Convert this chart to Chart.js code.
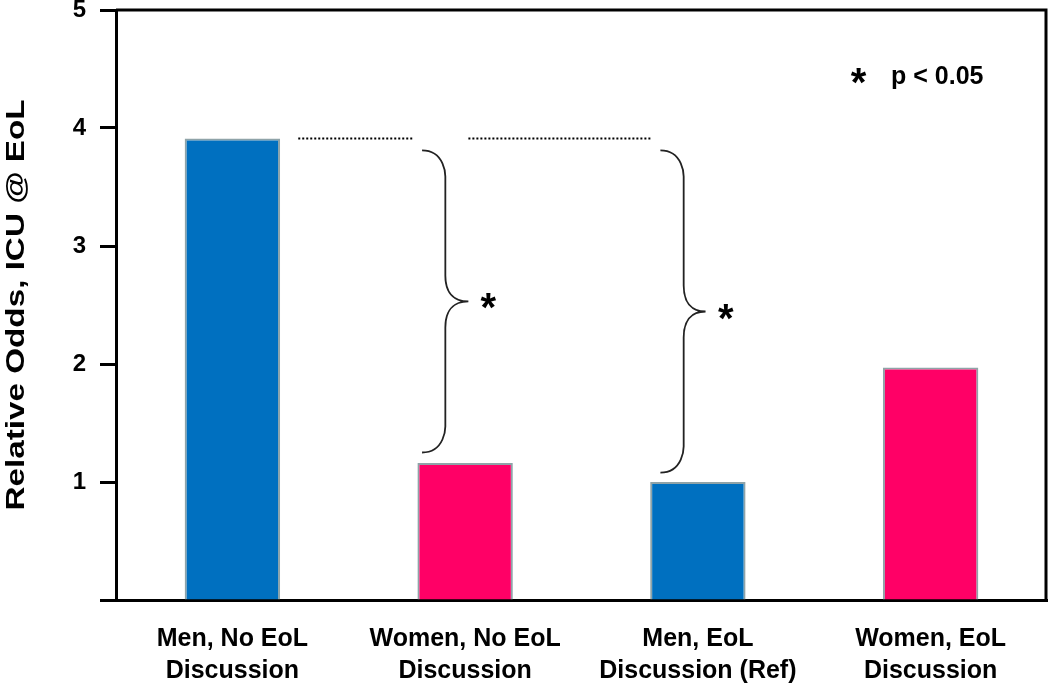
<!DOCTYPE html>
<html>
<head>
<meta charset="utf-8">
<script src="https://cdn.jsdelivr.net/npm/chart.js@4"></script>
<style>
  html, body { margin: 0; padding: 0; background: #ffffff; }
  #wrap { width: 1050px; height: 686px; }
</style>
</head>
<body>
<div id="wrap"><canvas id="chart" width="1050" height="686"></canvas></div>
<script>
const categories = [
    ["Men, No EoL", "Discussion"],
    ["Women, No EoL", "Discussion"],
    ["Men, EoL", "Discussion (Ref)"],
    ["Women, EoL", "Discussion"],
];
const relativeOdds = [3.91, 1.16, 1.0, 1.97];
const barColors = ["#0070C0", "#FF0066", "#0070C0", "#FF0066"];
const yTicks = [0, 1, 2, 3, 4, 5];
const yTitle = "Relative Odds, ICU @ EoL";

// brace spans (y values) for the two significance marks
const braces = [
    { from: 3.81, to: 1.25, x: 0.915, tip: 1.014, star: 1.10 },
    { from: 3.81, to: 1.08, x: 1.939, tip: 2.033, star: 2.12 },
];
const dottedLines = [
    { x0: 0.283, x1: 0.78, y: 3.91 },
    { x0: 1.014, x1: 1.797, y: 3.91 },
];

const fontFamily = "'Liberation Sans', Arial, sans-serif";

const annotations = {
    id: "annotations",
    afterDraw(chart) {
        const ctx = chart.ctx;
        const xs = chart.scales.x;
        const ys = chart.scales.y;
        const area = chart.chartArea;
        ctx.save();

        // frame top and right
        ctx.strokeStyle = "#000";
        ctx.lineWidth = 3;
        ctx.beginPath();
        ctx.moveTo(area.left, area.top);
        ctx.lineTo(area.right - 1, area.top);
        ctx.lineTo(area.right - 1, area.bottom);
        ctx.stroke();

        // dotted lines
        ctx.lineWidth = 2;
        ctx.setLineDash([2, 2]);
        ctx.strokeStyle = "#000";
        for (const d of dottedLines) {
            const y = ys.getPixelForValue(d.y);
            ctx.beginPath();
            ctx.moveTo(xs.getPixelForValue(d.x0), y);
            ctx.lineTo(xs.getPixelForValue(d.x1), y);
            ctx.stroke();
        }
        ctx.setLineDash([]);

        // braces
        ctx.strokeStyle = "#222";
        ctx.lineWidth = 1.8;
        for (const b of braces) {
            const yTop = ys.getPixelForValue(b.from);
            const yBot = ys.getPixelForValue(b.to);
            const xv = xs.getPixelForValue(b.x);
            const xt = xs.getPixelForValue(b.tip);
            const xs0 = xs.getPixelForValue(b.x - 0.1);
            const mid = (yTop + yBot) / 2;
            const r = 26;
            ctx.beginPath();
            ctx.moveTo(xs0, yTop);
            ctx.bezierCurveTo(xv, yTop, xv, yTop + r, xv, yTop + r);
            ctx.lineTo(xv, mid - r);
            ctx.bezierCurveTo(xv, mid, xt - 4, mid, xt, mid);
            ctx.bezierCurveTo(xt - 4, mid, xv, mid, xv, mid + r);
            ctx.lineTo(xv, yBot - r);
            ctx.bezierCurveTo(xv, yBot - r, xv, yBot, xs0, yBot);
            ctx.stroke();

            ctx.fillStyle = "#000";
            ctx.font = "bold 40px " + fontFamily;
            ctx.textAlign = "center";
            ctx.textBaseline = "middle";
            ctx.fillText("*", xs.getPixelForValue(b.star), mid + 9);
        }

        // legend note
        ctx.fillStyle = "#000";
        ctx.textBaseline = "middle";
        ctx.textAlign = "center";
        ctx.font = "bold 40px " + fontFamily;
        ctx.fillText("*", xs.getPixelForValue(2.69), ys.getPixelForValue(4.43) + 8);
        ctx.textAlign = "left";
        ctx.font = "bold 25px " + fontFamily;
        ctx.fillText("p < 0.05", xs.getPixelForValue(2.83), ys.getPixelForValue(4.43));

        // y axis title, stretched along its length like the source figure
        ctx.translate(17, (area.top + area.bottom) / 2);
        ctx.rotate(-Math.PI / 2);
        ctx.scale(1.33, 1.05);
        ctx.textAlign = "center";
        ctx.font = "bold 25px " + fontFamily;
        ctx.fillText(yTitle, 0, 0);
        ctx.restore();
    },
};

new Chart(document.getElementById("chart"), {
    type: "bar",
    plugins: [annotations],
    data: {
        labels: categories,
        datasets: [
            {
                data: relativeOdds,
                backgroundColor: barColors,
                borderColor: "#8FA3A8",
                borderWidth: 2,
                categoryPercentage: 1,
                barPercentage: 0.41,
            },
        ],
    },
    options: {
        responsive: false,
        animation: false,
        layout: { padding: { top: 10, right: 3, left: 0, bottom: 0 } },
        plugins: {
            legend: { display: false },
            tooltip: { enabled: false },
        },
        scales: {
            x: {
                grid: { display: false },
                border: { color: "#000", width: 3 },
                ticks: {
                    color: "#000",
                    padding: 15,
                    font: { family: fontFamily, size: 25, weight: "bold", lineHeight: 1.28 },
                    maxRotation: 0,
                    autoSkip: false,
                },
                afterFit(scale) {
                    scale.height = 86;
                    scale.paddingLeft = 0;
                    scale.paddingRight = 0;
                },
            },
            y: {
                min: 0,
                max: 5,
                afterBuildTicks(scale) { scale.ticks = yTicks.map(v => ({ value: v })); },
                grid: {
                    drawOnChartArea: false,
                    tickLength: 16,
                    tickWidth: 3,
                    tickColor: "#000",
                },
                border: { color: "#000", width: 3 },
                ticks: {
                    color: "#000",
                    padding: 14,
                    font: { family: fontFamily, size: 24, weight: "bold" },
                    callback: (v) => (v === 0 ? "" : v),
                },
                afterFit(scale) {
                    scale.width = 116;
                    scale.paddingTop = 0;
                    scale.paddingBottom = 0;
                },
            },
        },
    },
});
</script>
</body>
</html>
